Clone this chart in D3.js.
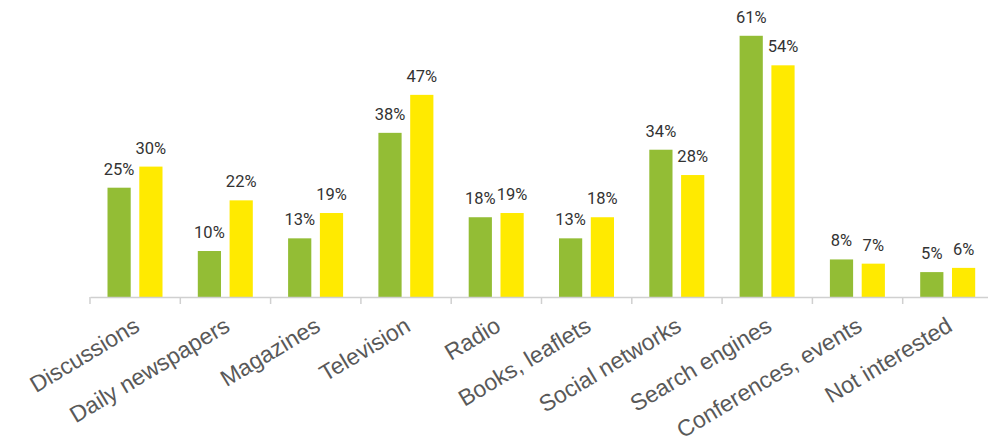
<!DOCTYPE html>
<html>
<head>
<meta charset="utf-8">
<script src="https://cdn.jsdelivr.net/npm/d3@7"></script>
<style>
  html, body { margin: 0; padding: 0; background: #ffffff; }
  svg { display: block; }
</style>
</head>
<body>
<svg id="chart" width="988" height="447"></svg>
<script>
const categories = ["Discussions", "Daily newspapers", "Magazines", "Television", "Radio",
  "Books, leaflets", "Social networks", "Search engines", "Conferences, events", "Not interested"];
const seriesNames = ["Series A", "Series B"];
const seriesA = [25, 10, 13, 38, 18, 13, 34, 61, 8, 5];
const seriesB = [30, 22, 19, 47, 19, 18, 28, 54, 7, 6];
const colors = ["#93bd35", "#ffea00"];

const svg = d3.select("#chart");
const baseY = 297;

const x = d3.scaleBand().domain(categories).range([90, 993]).padding(0);
const x1 = d3.scaleBand().domain(seriesNames).range([17.5, 72.5]).paddingInner(0.27).paddingOuter(0);
const y = d3.scaleLinear().domain([0, 70]).range([293.2, 293.2 - 295.4]);

const data = categories.map((c, i) => ({ cat: c, vals: [seriesA[i], seriesB[i]] }));

// bars
const groups = svg.selectAll("g.cat").data(data).join("g")
  .attr("class", "cat")
  .attr("transform", d => `translate(${x(d.cat)},0)`);

groups.selectAll("rect").data(d => d.vals.map((v, k) => ({ v, k })))
  .join("rect")
  .attr("x", d => x1(seriesNames[d.k]))
  .attr("width", x1.bandwidth())
  .attr("y", d => y(d.v))
  .attr("height", d => baseY - y(d.v))
  .attr("fill", d => colors[d.k]);

groups.selectAll("text.val").data(d => d.vals.map((v, k) => ({ v, k })))
  .join("text")
  .attr("class", "val")
  .attr("x", d => x1(seriesNames[d.k]) + x1.bandwidth() / 2)
  .attr("y", d => y(d.v) - 13)
  .attr("text-anchor", "middle")
  .attr("font-family", "Roboto, sans-serif")
  .attr("font-size", 16.5)
  .attr("fill", "#333333")
  .text(d => d.v + "%");

// axis
const axis = d3.axisBottom(x).tickSize(7).tickSizeOuter(0).tickFormat("");
const gAxis = svg.append("g").attr("transform", `translate(0,${baseY})`).call(axis);
gAxis.select(".domain").attr("stroke", "#d0d0d0").attr("stroke-width", 1.5);
gAxis.selectAll(".tick line").attr("stroke", "#d0d0d0").attr("stroke-width", 1.5)
  .attr("transform", `translate(${-x.bandwidth() / 2},0)`);

// category labels
svg.append("g").selectAll("text").data(categories).join("text")
  .attr("transform", d => `translate(${x(d) + x.bandwidth() / 2 + 6},330) rotate(-31)`)
  .attr("text-anchor", "end")
  .attr("font-family", "'Liberation Sans', Arial, sans-serif")
  .attr("font-size", 23)
  .attr("fill", "#595959")
  .text(d => d);
</script>
</body>
</html>
